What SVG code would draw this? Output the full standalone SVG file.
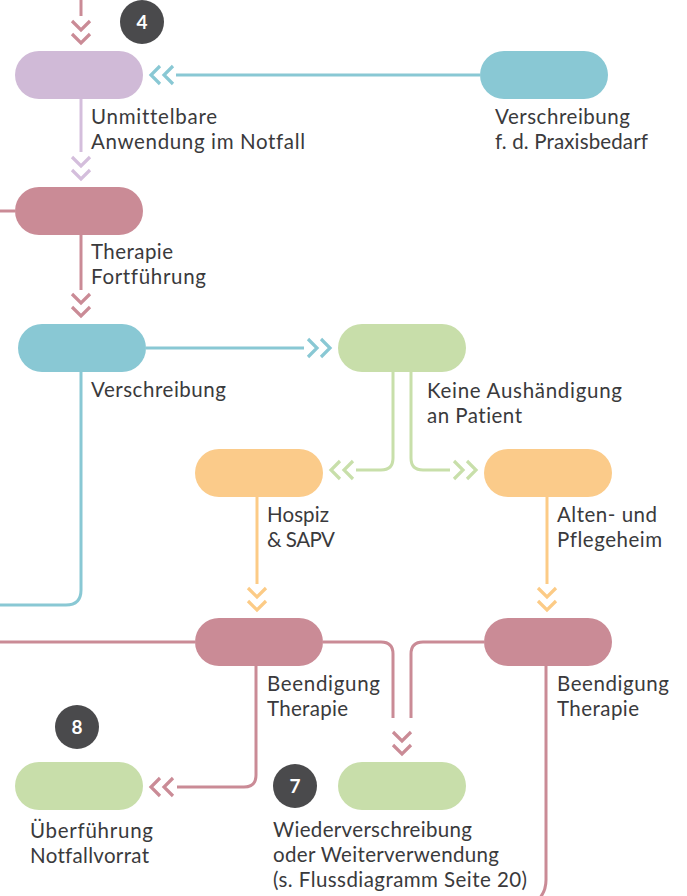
<svg xmlns="http://www.w3.org/2000/svg" width="687" height="896" viewBox="0 0 687 896">
<style>
.lbl{font-family:Lato,"Open Sans",sans-serif;font-size:20.5px;fill:#3a3a3c;font-variant-ligatures:none}
.badge circle{fill:#4a4a4c}
.badge text{font-family:Lato,"Open Sans",sans-serif;font-size:19px;font-weight:bold;fill:#fff;text-anchor:middle}
.ln{fill:none;stroke-width:3}
.pink{stroke:#ca8b96}.teal{stroke:#89c8d4}.purple{stroke:#d4bedc}.green{stroke:#c8dfaa}.orange{stroke:#fccb86}
</style>
<defs>
<path id="chev" d="M-9,-22 L0,-13 L9,-22 M-9,-9 L0,0 L9,-9" fill="none" stroke-width="3.2"/>
</defs>
<g id="connectors">
<path class="ln pink" d="M81,0 V16"/>
<use href="#chev" class="pink" transform="translate(81,43)"/>
<path class="ln teal" d="M480,75 H176"/>
<use href="#chev" class="teal" transform="translate(151,75) rotate(90)"/>
<path class="ln purple" d="M81,99 V152"/>
<use href="#chev" class="purple" transform="translate(81,179)"/>
<path class="ln pink" d="M0,211 H15"/>
<path class="ln pink" d="M81,235 V290"/>
<use href="#chev" class="pink" transform="translate(81,316)"/>
<path class="ln teal" d="M146,348 H304"/>
<use href="#chev" class="teal" transform="translate(330,348) rotate(-90)"/>
<path class="ln teal" d="M81,372 V590 Q81,605 66,605 H0"/>
<path class="ln green" d="M393,372 V458 Q393,470 381,470 H356"/>
<use href="#chev" class="green" transform="translate(331,470) rotate(90)"/>
<path class="ln green" d="M411,372 V458 Q411,470 423,470 H450"/>
<use href="#chev" class="green" transform="translate(476,470) rotate(-90)"/>
<path class="ln orange" d="M257,497 V584"/>
<use href="#chev" class="orange" transform="translate(257,610)"/>
<path class="ln orange" d="M547,497 V584"/>
<use href="#chev" class="orange" transform="translate(547,610)"/>
<path class="ln pink" d="M0,642 H195"/>
<path class="ln pink" d="M323,642 H381 Q393,642 393,654 V718"/>
<path class="ln pink" d="M484,642 H423 Q411,642 411,654 V718"/>
<use href="#chev" class="pink" transform="translate(402,754)"/>
<path class="ln pink" d="M256,666 V775 Q256,787 244,787 H177"/>
<use href="#chev" class="pink" transform="translate(151,787) rotate(90)"/>
<path class="ln pink" d="M546,666 V880 Q546,892 538,900"/>
</g>
<g id="n-notfall"><rect x="15" y="51" width="128" height="48" rx="24" fill="#d0bad7"/>
<text class="lbl" x="91" y="124" textLength="126" lengthAdjust="spacing">Unmittelbare</text><text class="lbl" x="91" y="149" textLength="214" lengthAdjust="spacing">Anwendung im Notfall</text></g>
<g id="n-praxis"><rect x="480" y="51" width="128" height="48" rx="24" fill="#89c8d4"/>
<text class="lbl" x="495" y="124" textLength="135" lengthAdjust="spacing">Verschreibung</text><text class="lbl" x="495" y="149" textLength="153" lengthAdjust="spacing">f. d. Praxisbedarf</text></g>
<g id="n-therapie"><rect x="15" y="187" width="128" height="48" rx="24" fill="#ca8b96"/>
<text class="lbl" x="91" y="259" textLength="82" lengthAdjust="spacing">Therapie</text><text class="lbl" x="91" y="284" textLength="115" lengthAdjust="spacing">Fortführung</text></g>
<g id="n-verschreibung"><rect x="18" y="324" width="128" height="48" rx="24" fill="#89c8d4"/>
<text class="lbl" x="91" y="397" textLength="135" lengthAdjust="spacing">Verschreibung</text></g>
<g id="n-keine"><rect x="338" y="324" width="128" height="48" rx="24" fill="#c8deaa"/>
<text class="lbl" x="427" y="398" textLength="195" lengthAdjust="spacing">Keine Aushändigung</text><text class="lbl" x="427" y="423" textLength="95" lengthAdjust="spacing">an Patient</text></g>
<g id="n-hospiz"><rect x="195" y="449" width="128" height="48" rx="24" fill="#fbcb8a"/>
<text class="lbl" x="267" y="522" textLength="62" lengthAdjust="spacing">Hospiz</text><text class="lbl" x="267" y="547" textLength="68" lengthAdjust="spacing">&amp; SAPV</text></g>
<g id="n-pflege"><rect x="484" y="449" width="128" height="48" rx="24" fill="#fbcb8a"/>
<text class="lbl" x="557" y="522" textLength="100" lengthAdjust="spacing">Alten- und</text><text class="lbl" x="557" y="547" textLength="105" lengthAdjust="spacing">Pflegeheim</text></g>
<g id="n-beend1"><rect x="195" y="618" width="128" height="48" rx="24" fill="#ca8b96"/>
<text class="lbl" x="267" y="691" textLength="113" lengthAdjust="spacing">Beendigung</text><text class="lbl" x="267" y="716" textLength="81" lengthAdjust="spacing">Therapie</text></g>
<g id="n-beend2"><rect x="484" y="618" width="128" height="48" rx="24" fill="#ca8b96"/>
<text class="lbl" x="557" y="691" textLength="112" lengthAdjust="spacing">Beendigung</text><text class="lbl" x="557" y="716" textLength="82" lengthAdjust="spacing">Therapie</text></g>
<g id="n-ueberf"><rect x="15" y="762" width="128" height="48" rx="24" fill="#c8deaa"/>
<text class="lbl" x="30" y="838" textLength="123" lengthAdjust="spacing">Überführung</text><text class="lbl" x="30" y="863" textLength="119" lengthAdjust="spacing">Notfallvorrat</text></g>
<g id="n-wieder"><rect x="338" y="762" width="128" height="48" rx="24" fill="#c8deaa"/>
<text class="lbl" x="273" y="837" textLength="199" lengthAdjust="spacing">Wiederverschreibung</text><text class="lbl" x="273" y="862" textLength="226" lengthAdjust="spacing">oder Weiterverwendung</text><text class="lbl" x="273" y="887" textLength="254" lengthAdjust="spacing">(s. Flussdiagramm Seite 20)</text></g>
<g id="b4" class="badge"><circle cx="142" cy="22" r="22"/><text x="142" y="29">4</text></g>
<g id="b8" class="badge"><circle cx="77" cy="727" r="22"/><text x="77" y="734">8</text></g>
<g id="b7" class="badge"><circle cx="295" cy="786" r="22"/><text x="295" y="793">7</text></g>
</svg>
